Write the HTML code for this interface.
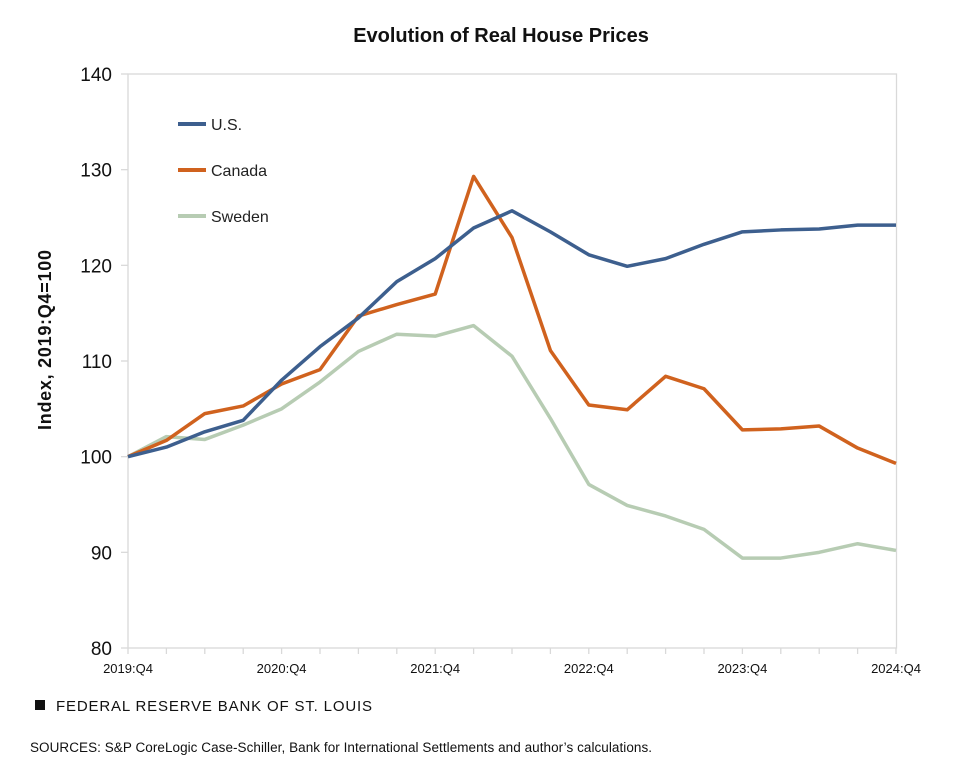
<!DOCTYPE html>
<html><head><meta charset="utf-8"><style>
body{margin:0;background:#fff;width:962px;height:765px;overflow:hidden;font-family:"Liberation Sans",sans-serif}
svg text{font-family:"Liberation Sans",sans-serif}
</style></head><body>
<svg id="chart" width="962" height="765" xmlns="http://www.w3.org/2000/svg">
<text x="501" y="42" text-anchor="middle" font-size="20" font-weight="bold" fill="#111">Evolution of Real House Prices</text>
<rect x="128" y="74" width="768.5" height="574" fill="none" stroke="#d9d9d9" stroke-width="1.3"/>
<g id="yticks"></g><g id="xticks"></g><g id="series"></g>
<text transform="translate(51,340) rotate(-90)" text-anchor="middle" font-size="18" font-weight="bold" fill="#111" textLength="180">Index, 2019:Q4=100</text>
<g>
<line x1="178" y1="124" x2="206" y2="124" stroke="#3d5f8e" stroke-width="4"/>
<text x="211" y="130" font-size="16" fill="#222">U.S.</text>
<line x1="178" y1="170" x2="206" y2="170" stroke="#d0621e" stroke-width="4"/>
<text x="211" y="176" font-size="16" fill="#222">Canada</text>
<line x1="178" y1="216" x2="206" y2="216" stroke="#b7ccb3" stroke-width="4"/>
<text x="211" y="222" font-size="16" fill="#222">Sweden</text>
</g>
<rect x="35" y="700" width="10" height="10" fill="#111"/>
<text x="56" y="711" font-size="15" fill="#111" textLength="316">FEDERAL RESERVE BANK OF ST. LOUIS</text>
<text x="30" y="752" font-size="13.5" fill="#111" textLength="622">SOURCES: S&amp;P CoreLogic Case-Schiller, Bank for International Settlements and author’s calculations.</text>
</svg>
<script>
const quarters=["2019:Q4","2020:Q1","2020:Q2","2020:Q3","2020:Q4","2021:Q1","2021:Q2","2021:Q3","2021:Q4","2022:Q1","2022:Q2","2022:Q3","2022:Q4","2023:Q1","2023:Q2","2023:Q3","2023:Q4","2024:Q1","2024:Q2","2024:Q3","2024:Q4"];
const usValues=[100,101.0,102.6,103.8,108.0,111.5,114.5,118.3,120.7,123.9,125.7,123.5,121.1,119.9,120.7,122.2,123.5,123.7,123.8,124.2,124.2];
const canadaValues=[100,101.7,104.5,105.3,107.6,109.1,114.7,115.9,117.0,129.3,122.9,111.1,105.4,104.9,108.4,107.1,102.8,102.9,103.2,100.9,99.3];
const swedenValues=[100,102.1,101.8,103.3,105.0,107.8,111.0,112.8,112.6,113.7,110.5,104.0,97.1,94.9,93.8,92.4,89.4,89.4,90.0,90.9,90.2];
const yTickValues=[80,90,100,110,120,130,140];
const xLabelIdx=[0,4,8,12,16,20];
const NS="http://www.w3.org/2000/svg";
const X0=128,X1=896,Y0=648,Y1=74,YMIN=80,YMAX=140;
const xs=i=>X0+(X1-X0)*i/(quarters.length-1);
const ys=v=>Y0-(v-YMIN)/(YMAX-YMIN)*(Y0-Y1);
function mk(t,a,p){const e=document.createElementNS(NS,t);for(const k in a)e.setAttribute(k,a[k]);p.appendChild(e);return e;}
const yg=document.getElementById('yticks');
yTickValues.forEach(v=>{
 const l=mk('line',{x1:121,x2:128,y1:ys(v),y2:ys(v),stroke:'#d9d9d9','stroke-width':1.3},yg);
 
 
 const t=mk('text',{x:112,y:ys(v)+7,'text-anchor':'end','font-size':19,fill:'#111'},yg);
 t.textContent=v;
 
 
});
const xg=document.getElementById('xticks');
quarters.forEach((q,i)=>{
 const l=mk('line',{x1:xs(i),x2:xs(i),y1:648,y2:654,stroke:'#d9d9d9','stroke-width':1.3},xg);
 
 
});
xLabelIdx.forEach(i=>{
 const t=mk('text',{x:xs(i),y:673,'text-anchor':'middle','font-size':13,fill:'#111'},xg);
 t.textContent=quarters[i];
 
 
});
const sg=document.getElementById('series');
[[swedenValues,'#b7ccb3','sweden-line'],[canadaValues,'#d0621e','canada-line'],[usValues,'#3d5f8e','us-line']].forEach(([vals,c,n])=>{
 const p=mk('polyline',{points:vals.map((v,i)=>xs(i)+','+ys(v)).join(' '),fill:'none',stroke:c,'stroke-width':3.5,'stroke-linejoin':'round'},sg);
 
 
});
</script>
</body></html>
